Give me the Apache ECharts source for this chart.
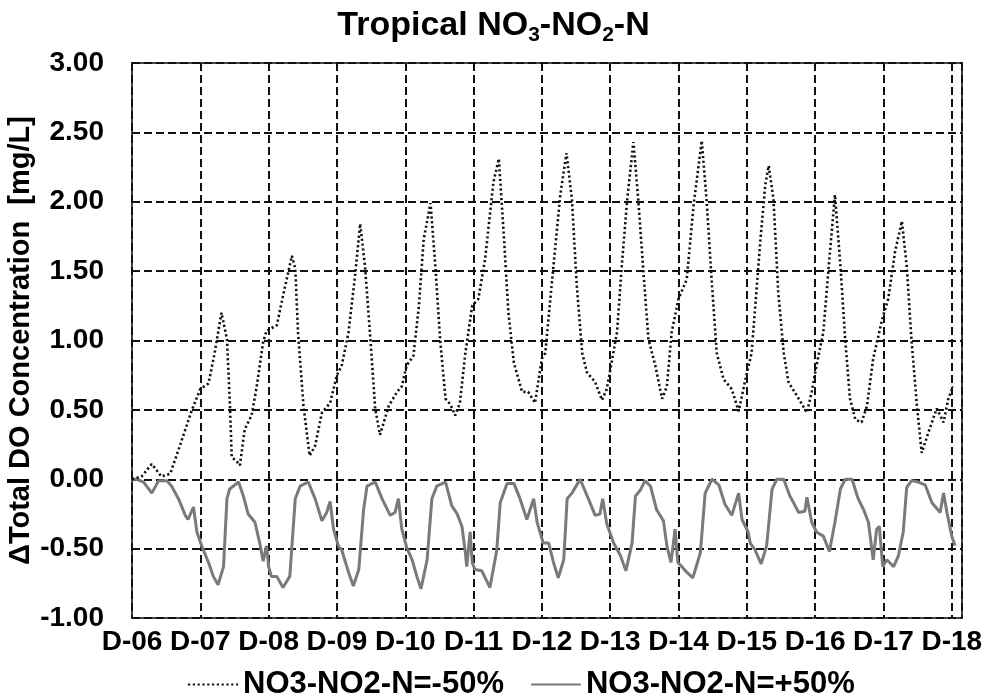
<!DOCTYPE html>
<html>
<head>
	<meta charset="UTF-8" />
	<title>Tropical NO3-NO2-N</title>
	<script src="https://cdn.jsdelivr.net/npm/echarts@6/dist/echarts.min.js"></script>
	<style>
		html, body { margin: 0; padding: 0; background: #fff; }
		#chart { width: 987px; height: 700px; }
	</style>
</head>
<body>
	<div id="chart"></div>
	<script type="text/javascript">
		// x = days since D-06, y = change in total DO (mg/L)
		const dayLabels = ['D-06', 'D-07', 'D-08', 'D-09', 'D-10', 'D-11', 'D-12', 'D-13', 'D-14', 'D-15', 'D-16', 'D-17', 'D-18'];
		const seriesNames = ['NO3-NO2-N=-50%', 'NO3-NO2-N=+50%'];

		const minus50 = [
			[0, 0], [0.14, 0.02], [0.29, 0.11], [0.43, 0.02], [0.56, 0.04], [0.70, 0.24], [0.87, 0.49], [1.0, 0.65],
			[1.12, 0.69], [1.21, 0.91], [1.31, 1.20], [1.39, 1.01], [1.43, 0.58], [1.46, 0.16], [1.53, 0.13], [1.58, 0.10],
			[1.65, 0.36], [1.75, 0.46], [1.82, 0.65], [1.92, 0.99], [1.97, 1.07], [2.12, 1.11], [2.21, 1.32], [2.34, 1.61],
			[2.39, 1.52], [2.43, 1.06], [2.51, 0.53], [2.60, 0.17], [2.68, 0.24], [2.78, 0.48], [2.90, 0.55], [3.0, 0.75],
			[3.07, 0.82], [3.17, 1.06], [3.27, 1.49], [3.34, 1.84], [3.41, 1.54], [3.49, 1.01], [3.56, 0.51], [3.63, 0.32],
			[3.76, 0.53], [3.88, 0.63], [3.95, 0.67], [4.02, 0.82], [4.12, 0.89], [4.20, 1.25], [4.27, 1.73], [4.37, 1.99],
			[4.44, 1.54], [4.51, 1.01], [4.59, 0.58], [4.66, 0.54], [4.73, 0.46], [4.80, 0.55], [4.88, 0.91], [4.98, 1.25],
			[5.07, 1.30], [5.17, 1.59], [5.29, 2.14], [5.37, 2.31], [5.44, 1.78], [5.51, 1.20], [5.59, 0.84], [5.71, 0.63],
			[5.80, 0.63], [5.90, 0.55], [6.0, 0.87], [6.05, 0.91], [6.17, 1.54], [6.27, 2.05], [6.36, 2.35], [6.44, 2.02],
			[6.51, 1.40], [6.59, 0.91], [6.66, 0.77], [6.78, 0.70], [6.88, 0.57], [6.95, 0.65], [7.02, 0.84], [7.10, 1.06],
			[7.17, 1.54], [7.25, 2.02], [7.34, 2.43], [7.41, 2.02], [7.49, 1.47], [7.56, 1.01], [7.66, 0.82], [7.76, 0.58],
			[7.83, 0.67], [7.90, 1.06], [8.0, 1.30], [8.12, 1.44], [8.22, 1.97], [8.34, 2.44], [8.41, 2.02], [8.49, 1.40],
			[8.56, 0.91], [8.66, 0.72], [8.78, 0.65], [8.88, 0.49], [8.98, 0.72], [9.07, 0.91], [9.20, 1.73], [9.27, 2.12],
			[9.32, 2.26], [9.39, 2.02], [9.46, 1.35], [9.54, 0.91], [9.61, 0.70], [9.76, 0.58], [9.88, 0.48], [9.95, 0.63],
			[10.02, 0.82], [10.12, 1.06], [10.20, 1.54], [10.29, 2.05], [10.37, 1.54], [10.44, 1.01], [10.51, 0.58], [10.59, 0.43],
			[10.68, 0.41], [10.76, 0.53], [10.85, 0.87], [10.98, 1.15], [11.07, 1.30], [11.17, 1.64], [11.27, 1.86], [11.34, 1.54],
			[11.41, 1.01], [11.49, 0.53], [11.56, 0.19], [11.66, 0.34], [11.78, 0.51], [11.88, 0.41], [11.95, 0.58], [12.02, 0.67]
		];

		const plus50 = [
			[0, 0], [0.07, 0], [0.17, -0.02], [0.29, -0.10], [0.39, -0.01], [0.51, -0.01], [0.58, -0.05], [0.68, -0.14],
			[0.78, -0.26], [0.82, -0.29], [0.90, -0.20], [0.95, -0.38], [1.02, -0.48], [1.12, -0.60], [1.19, -0.70], [1.26, -0.76],
			[1.34, -0.63], [1.39, -0.14], [1.43, -0.07], [1.56, -0.02], [1.63, -0.12], [1.70, -0.25], [1.80, -0.31], [1.87, -0.46],
			[1.92, -0.59], [1.97, -0.48], [2.0, -0.63], [2.04, -0.70], [2.12, -0.70], [2.21, -0.78], [2.31, -0.70], [2.39, -0.14],
			[2.46, -0.05], [2.58, -0.02], [2.68, -0.14], [2.78, -0.30], [2.85, -0.24], [2.90, -0.16], [2.95, -0.36], [3.02, -0.48],
			[3.07, -0.51], [3.17, -0.67], [3.24, -0.77], [3.32, -0.65], [3.39, -0.22], [3.44, -0.05], [3.56, -0.02], [3.66, -0.14],
			[3.78, -0.26], [3.85, -0.24], [3.90, -0.14], [3.95, -0.36], [4.02, -0.49], [4.10, -0.58], [4.17, -0.70], [4.23, -0.79],
			[4.32, -0.58], [4.39, -0.14], [4.46, -0.05], [4.59, -0.02], [4.68, -0.19], [4.76, -0.25], [4.83, -0.34], [4.88, -0.53],
			[4.90, -0.63], [4.95, -0.38], [4.98, -0.60], [5.02, -0.65], [5.12, -0.66], [5.24, -0.78], [5.34, -0.51], [5.39, -0.17],
			[5.49, -0.03], [5.59, -0.03], [5.68, -0.14], [5.78, -0.29], [5.88, -0.14], [5.93, -0.31], [6.02, -0.46], [6.10, -0.46],
			[6.17, -0.60], [6.24, -0.71], [6.32, -0.58], [6.37, -0.14], [6.44, -0.10], [6.56, 0.0], [6.68, -0.14], [6.78, -0.26],
			[6.85, -0.25], [6.89, -0.14], [6.95, -0.32], [7.05, -0.46], [7.15, -0.55], [7.23, -0.66], [7.32, -0.46], [7.37, -0.12],
			[7.44, -0.08], [7.51, -0.01], [7.59, -0.05], [7.68, -0.22], [7.78, -0.30], [7.83, -0.48], [7.89, -0.60], [7.95, -0.36],
			[7.99, -0.60], [8.05, -0.63], [8.12, -0.67], [8.21, -0.71], [8.32, -0.53], [8.39, -0.10], [8.49, 0.0], [8.59, -0.04],
			[8.68, -0.18], [8.78, -0.26], [8.88, -0.10], [8.93, -0.29], [9.02, -0.38], [9.05, -0.46], [9.12, -0.51], [9.21, -0.61],
			[9.29, -0.48], [9.37, -0.07], [9.44, 0], [9.54, 0], [9.63, -0.12], [9.76, -0.24], [9.85, -0.23], [9.88, -0.13],
			[9.95, -0.31], [10.02, -0.38], [10.12, -0.41], [10.21, -0.52], [10.29, -0.31], [10.37, -0.07], [10.44, 0], [10.54, 0],
			[10.63, -0.14], [10.71, -0.22], [10.78, -0.31], [10.85, -0.58], [10.90, -0.36], [10.94, -0.34], [10.99, -0.63], [11.05, -0.58],
			[11.15, -0.63], [11.22, -0.55], [11.29, -0.38], [11.34, -0.06], [11.41, -0.01], [11.51, -0.02], [11.61, -0.04], [11.71, -0.17],
			[11.83, -0.24], [11.88, -0.10], [11.93, -0.24], [12.0, -0.41], [12.05, -0.48]
		];

		const FONT = '"Liberation Sans", Arial, sans-serif';
		const gridDash = { color: '#111', width: 2, type: [8, 4] };

		const chart = echarts.init(document.getElementById('chart'), null, { renderer: 'canvas' });

		chart.setOption({
			backgroundColor: '#fff',
			animation: false,
			title: {
				text: '{a|Tropical NO}{s|3}{a|-NO}{s|2}{a|-N}',
				left: 'center',
				top: 1,
				textStyle: {
					rich: {
						a: { fontFamily: FONT, fontWeight: 'bold', fontSize: 34, lineHeight: 40, color: '#000' },
						s: { fontFamily: FONT, fontWeight: 'bold', fontSize: 21, lineHeight: 22, verticalAlign: 'bottom', color: '#000' }
					}
				}
			},
			legend: {
				top: 664,
				left: 182,
				itemGap: 26,
				itemWidth: 50,
				itemHeight: 12,
				itemStyle: { color: 'rgba(0,0,0,0)', borderWidth: 0 },
				textStyle: { fontFamily: FONT, fontWeight: 'bold', fontSize: 31, color: '#000' },
				data: seriesNames
			},
			grid: {
				left: 132,
				right: 25,
				top: 63,
				bottom: 82,
				show: true,
				borderColor: '#444',
				borderWidth: 2,
				containLabel: false,
				outerBoundsMode: 'none'
			},
			xAxis: {
				type: 'value',
				min: 0,
				max: 12.15,
				interval: 1,
				axisLine: { show: false },
				axisTick: { show: false },
				axisLabel: {
					margin: 10,
					fontFamily: FONT,
					fontWeight: 'bold',
					fontSize: 28,
					color: '#000',
					showMaxLabel: false,
					formatter: function (v) {
						return Number.isInteger(v) ? dayLabels[v] : '';
					}
				},
				splitLine: { show: true, lineStyle: gridDash }
			},
			yAxis: {
				type: 'value',
				min: -1,
				max: 3,
				interval: 0.5,
				name: '\u0394Total DO Concentration  [mg/L]',
				nameLocation: 'middle',
				nameGap: 97,
				nameMoveOverlap: false,
				nameTextStyle: { fontFamily: FONT, fontWeight: 'bold', fontSize: 29, color: '#000' },
				axisLine: { show: false },
				axisTick: { show: false },
				axisLabel: {
					margin: 28,
					fontFamily: FONT,
					fontWeight: 'bold',
					fontSize: 28,
					color: '#000',
					formatter: function (v) { return v.toFixed(2); }
				},
				splitLine: { show: true, lineStyle: gridDash }
			},
			series: [
				{
					name: seriesNames[0],
					type: 'line',
					data: minus50,
					showSymbol: false,
					symbol: 'none',
					lineStyle: { color: '#111', width: 2.6, type: [2.2, 2.6] },
					itemStyle: { color: '#111' },
					z: 3
				},
				{
					name: seriesNames[1],
					type: 'line',
					data: plus50,
					showSymbol: false,
					symbol: 'none',
					lineStyle: { color: '#7a7a7a', width: 3 },
					itemStyle: { color: '#7a7a7a' },
					z: 2
				}
			]
		});
	</script>
</body>
</html>
